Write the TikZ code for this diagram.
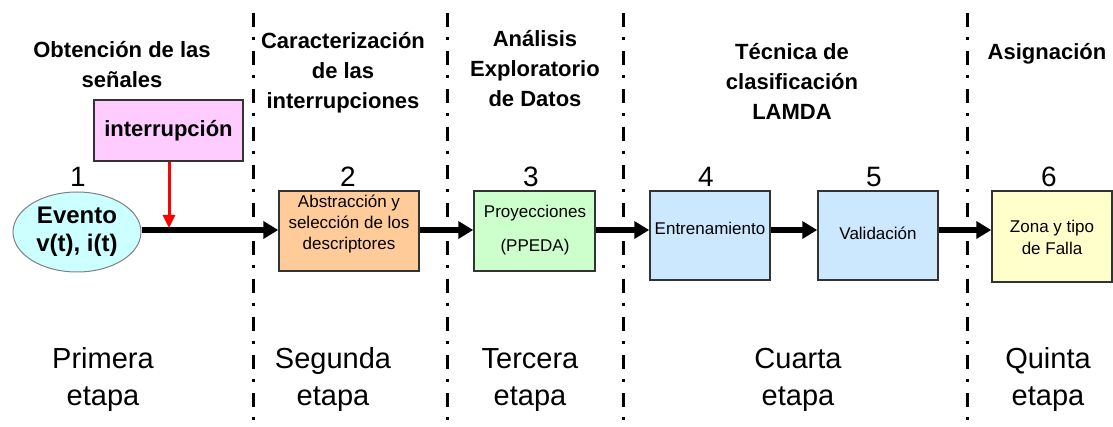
\documentclass[tikz,border=0pt]{standalone}
\usepackage{fontspec}
\setmainfont{Liberation Sans}
\usetikzlibrary{arrows.meta,shapes.geometric}
\definecolor{pinkbox}{HTML}{FFCCFF}
\definecolor{cyanell}{HTML}{CCFFFF}
\definecolor{orangebox}{HTML}{FFCC99}
\definecolor{greenbox}{HTML}{CCFFCC}
\definecolor{bluebox}{HTML}{CCE8FF}
\definecolor{yellowbox}{HTML}{FFFFCC}
\definecolor{edge}{HTML}{333333}
\begin{document}
\begin{tikzpicture}[x=1pt,y=-1pt,
  sep/.style={line width=3pt,dash pattern=on 14pt off 10pt on 3pt off 11pt,black},
  title/.style={font=\fontsize{22}{30}\selectfont\bfseries,inner sep=0pt,anchor=base,align=center},
  stage/.style={font=\fontsize{29}{37}\selectfont,inner sep=0pt,anchor=base,align=center},
  num/.style={font=\fontsize{28}{30}\selectfont,inner sep=0pt,anchor=base},
  box/.style={draw=edge,line width=1.5pt,minimum width=#1,inner sep=0pt},
  boxtxt/.style={font=\fontsize{17}{21}\selectfont,inner sep=0pt,anchor=base,align=center},
  flow/.style={line width=6pt,-{Triangle[length=15pt,width=17pt]}},
]
\useasboundingbox (0,0) rectangle (1113,427);
% separators
\coordinate (s1t) at (253,13); \coordinate (s1b) at (253,427);
\coordinate (s2t) at (447,13); \coordinate (s2b) at (447,427);
\coordinate (s3t) at (623,13); \coordinate (s3b) at (623,427);
\coordinate (s4t) at (967,13); \coordinate (s4b) at (967,427);
\draw[sep] (s1t) -- (s1b);
\draw[sep] (s2t) -- (s2b);
\draw[sep] (s3t) -- (s3b);
\draw[sep] (s4t) -- (s4b);
% titles (anchor = baseline of last line)
\node[title] (t1) at (122,88) {Obtención de las\\señales};
\node[title] (t2) at (343,109) {Caracterización\\de las\\interrupciones};
\node[title] (t3) at (535,107) {Análisis\\Exploratorio\\de Datos};
\node[title] (t4) at (792,120) {Técnica de\\clasificación\\LAMDA};
\node[title] (t5) at (1047,60) {Asignación};
% numbers
\node[num] (n1) at (78,187) {1};
\node[num] (n2) at (348,187) {2};
\node[num] (n3) at (531,187) {3};
\node[num] (n4) at (706,187) {4};
\node[num] (n5) at (874,187) {5};
\node[num] (n6) at (1049,187) {6};
% nodes
\node[ellipse,draw=gray,line width=1pt,fill=cyanell,minimum width=128pt,minimum height=80pt,inner sep=0pt,
      font=\fontsize{24}{28}\selectfont\bfseries,align=center] (ev) at (77,232) {Evento\\v(t), i(t)};
\node[box=149pt,minimum height=61pt,fill=pinkbox,font=\fontsize{22}{26}\selectfont\bfseries] (int) at (168.5,130.5) {interrupción};
\node[box=140pt,minimum height=80pt,fill=orangebox] (b2) at (349,231) {};
\node[box=121pt,minimum height=80pt,fill=greenbox] (b3) at (534.5,231) {};
\node[box=120pt,minimum height=89pt,fill=bluebox] (b4) at (710,235.5) {};
\node[box=120pt,minimum height=89pt,fill=bluebox] (b5) at (878,235.5) {};
\node[box=120pt,minimum height=91pt,fill=yellowbox] (b6) at (1052,236.5) {};
% box texts
\node[boxtxt] (x2) at (349,250) {Abstracción y\\selección de los\\descriptores};
\node[boxtxt,font=\fontsize{17}{34}\selectfont] (x3) at (535,252) {Proyecciones\\(PPEDA)};
\node[boxtxt] (x4) at (710,235) {Entrenamiento};
\node[boxtxt] (x5) at (878,240) {Validación};
\node[boxtxt,font=\fontsize{17}{22}\selectfont] (x6) at (1052,255) {Zona y tipo\\de Falla};
% flow arrows
\draw[flow] (ev.east |- 0,230) -- (b2.west |- 0,230);
\draw[flow] (b2.east |- 0,230) -- (b3.west |- 0,230);
\draw[flow] (b3.east |- 0,230) -- (b4.west |- 0,230);
\draw[flow] (b4.east |- 0,230) -- (b5.west |- 0,230);
\draw[flow] (b5.east |- 0,230) -- (b6.west |- 0,230);
% interruption arrow
\coordinate (hit) at (169,228);
\draw[red,line width=3pt,-{Triangle[length=13pt,width=12pt]}] (int.south -| hit) -- (hit);
% stage labels
\node[stage] (e1) at (103,405) {Primera\\etapa};
\node[stage] (e2) at (333,405) {Segunda\\etapa};
\node[stage] (e3) at (530,405) {Tercera\\etapa};
\node[stage] (e4) at (798,405) {Cuarta\\etapa};
\node[stage] (e5) at (1048,405) {Quinta\\etapa};
\end{tikzpicture}
\end{document}
